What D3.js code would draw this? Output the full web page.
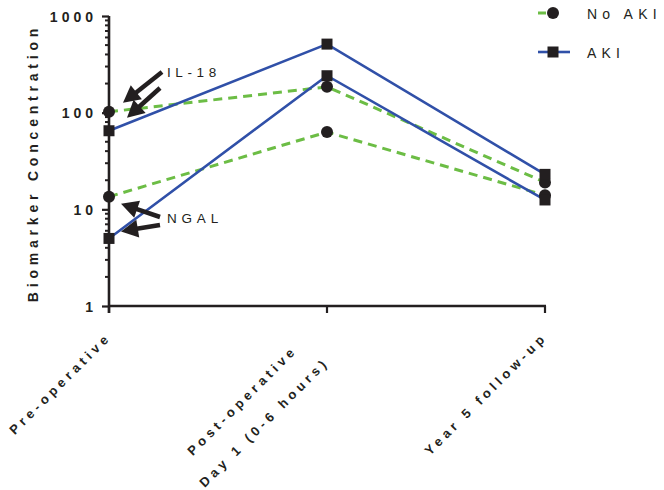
<!DOCTYPE html>
<html><head><meta charset="utf-8">
<script src="https://cdn.jsdelivr.net/npm/d3@7"></script>
<style>
html,body{margin:0;padding:0;background:#fff;}
text{font-family:"Liberation Sans",Arial,sans-serif;fill:#231f20;}
</style></head>
<body><svg id="c" width="664" height="490"></svg>
<script>
const categories = ["pre", "post", "y5"];
const tickLabels = [["Pre-operative"], ["Post-operative", "Day 1 (0-6 hours)"], ["Year 5 follow-up"]];
const yTicks = [1, 10, 100, 1000];
const il18NoAKI = [102, 185, 19];
const ngalNoAKI = [13.5, 63, 14];
const il18AKI = [65, 512, 23];
const ngalAKI = [5.0, 241, 12.5];
const legendLabels = ["No AKI", "AKI"];
const annotations = ["IL-18", "NGAL"];

const svg = d3.select("#c");
const green = "#6cbd45", blue = "#3050a8", ink = "#231f20";
const x = d3.scalePoint().domain(categories).range([109, 545]);
const y = d3.scaleLog().domain([1, 1000]).range([306, 16]);

// Y axis
const yAxis = d3.axisLeft(y).tickValues(yTicks).tickFormat(d3.format("d")).tickSize(7).tickPadding(5);
const gy = svg.append("g").attr("transform", "translate(109,0)").call(yAxis);
gy.select(".domain").attr("stroke", ink).attr("stroke-width", 2.6).attr("d", "M0,16V313");
gy.selectAll(".tick line").attr("stroke", ink).attr("stroke-width", 2.2);
gy.selectAll(".tick text").attr("font-size", 14).attr("font-weight", "bold").attr("letter-spacing", 4).attr("fill", ink).attr("dy", "0.36em");
// minor ticks
const minors = [];
[1, 10, 100].forEach(d => { for (let k = 2; k <= 9; k++) minors.push(d * k); });
svg.append("g").selectAll("line").data(minors).join("line")
  .attr("x1", 105).attr("x2", 109).attr("y1", d => y(d)).attr("y2", d => y(d))
  .attr("stroke", ink).attr("stroke-width", 2);

// X axis
const gx = svg.append("g").attr("transform", "translate(0,306)");
gx.append("line").attr("x1", 108).attr("x2", 546).attr("y1", 0).attr("y2", 0).attr("stroke", ink).attr("stroke-width", 2.6);
gx.selectAll("line.t").data(categories).join("line").attr("class", "t")
  .attr("x1", d => x(d)).attr("x2", d => x(d)).attr("y1", 0).attr("y2", 7)
  .attr("stroke", ink).attr("stroke-width", 2.2);

// X tick labels rotated
categories.forEach((c, i) => {
  const lines = tickLabels[i];
  const multi = lines.length > 1;
  const ox = x(c) + (multi ? -19 : 3), oy = multi ? 341 : 338;
  const g = svg.append("g").attr("transform", `translate(${ox},${oy}) rotate(-45)`);
  const ts = lines.map((t, j) => g.append("text").text(t)
    .attr("font-size", 13).attr("font-weight", "bold").attr("letter-spacing", 4.2)
    .attr("y", j * 31));
  if (!multi) {
    ts[0].attr("text-anchor", "end");
  } else {
    const w = ts.map(t => t.node().getComputedTextLength());
    const wmax = Math.max(...w);
    ts.forEach(t => t.attr("text-anchor", "middle").attr("x", -wmax / 2));
  }
});

// Y title
svg.append("text").attr("transform", "translate(38,163) rotate(-90)")
  .attr("text-anchor", "middle").attr("font-size", 14).attr("font-weight", "bold")
  .attr("letter-spacing", 4.8).text("Biomarker Concentration");

// lines
const line = d3.line().x((d, i) => x(categories[i])).y(d => y(d));
[il18NoAKI, ngalNoAKI].forEach(s => svg.append("path").attr("d", line(s)).attr("fill", "none")
  .attr("stroke", green).attr("stroke-width", 3).attr("stroke-dasharray", "9,6"));
[il18AKI, ngalAKI].forEach(s => svg.append("path").attr("d", line(s)).attr("fill", "none")
  .attr("stroke", blue).attr("stroke-width", 2.6));

// markers
[il18NoAKI, ngalNoAKI].forEach(s => svg.append("g").selectAll("circle").data(s).join("circle")
  .attr("cx", (d, i) => x(categories[i])).attr("cy", d => y(d)).attr("r", 6).attr("fill", ink));
[il18AKI, ngalAKI].forEach(s => svg.append("g").selectAll("rect").data(s).join("rect")
  .attr("x", (d, i) => x(categories[i]) - 5.5).attr("y", d => y(d) - 5.5)
  .attr("width", 11).attr("height", 11).attr("fill", ink));

// arrows
function arrow(x0, y0, x1, y1) {
  const dx = x1 - x0, dy = y1 - y0, L = Math.hypot(dx, dy);
  const ux = dx / L, uy = dy / L, px = -uy, py = ux;
  const hl = 17, hw = 9;
  const bx = x1 - ux * hl, by = y1 - uy * hl;
  svg.append("line").attr("x1", x0).attr("y1", y0).attr("x2", bx + ux).attr("y2", by + uy)
    .attr("stroke", ink).attr("stroke-width", 4.5);
  svg.append("path").attr("d", `M${x1},${y1}L${bx + px * hw},${by + py * hw}L${bx - px * hw},${by - py * hw}Z`)
    .attr("fill", ink);
}
const px0 = x(categories[0]);
arrow(162, 72, px0 + 14, y(il18NoAKI[0]) - 9);
arrow(160, 88, px0 + 18, y(il18AKI[0]) - 13);
arrow(160, 217, px0 + 12, y(ngalNoAKI[0]) + 7);
arrow(160, 225, px0 + 12, y(ngalAKI[0]) - 7);

svg.append("text").attr("x", 167).attr("y", 77).attr("font-size", 13.5).attr("letter-spacing", 4.6).text(annotations[0]);
svg.append("text").attr("x", 167).attr("y", 223).attr("font-size", 13.5).attr("letter-spacing", 4.8).text(annotations[1]);

// legend
const lg = svg.append("g");
lg.append("line").attr("x1", 538).attr("x2", 571).attr("y1", 13).attr("y2", 13)
  .attr("stroke", green).attr("stroke-width", 3).attr("stroke-dasharray", "8,6,5,100");
lg.append("circle").attr("cx", 553).attr("cy", 13).attr("r", 6).attr("fill", ink);
lg.append("line").attr("x1", 538).attr("x2", 570).attr("y1", 52).attr("y2", 52)
  .attr("stroke", blue).attr("stroke-width", 2.6);
lg.append("rect").attr("x", 547.5).attr("y", 46.5).attr("width", 11).attr("height", 11).attr("fill", ink);
lg.append("text").attr("x", 587).attr("y", 19).attr("font-size", 14).attr("letter-spacing", 5.2).text(legendLabels[0]);
lg.append("text").attr("x", 587).attr("y", 58).attr("font-size", 14).attr("letter-spacing", 5.2).text(legendLabels[1]);
</script></body></html>
